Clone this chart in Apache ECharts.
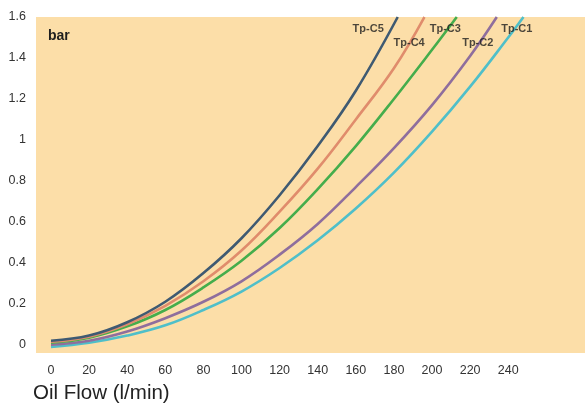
<!DOCTYPE html>
<html>
<head>
<meta charset="utf-8">
<script src="https://cdn.jsdelivr.net/npm/echarts@6/dist/echarts.min.js"></script>
<style>
html,body{margin:0;padding:0;background:#fff;}
#chart{width:585px;height:410px;}
</style>
</head>
<body>
<div id="chart"></div>
<script>
// Data (flow l/min, pressure bar)
var seriesNames = ['Tp-C5', 'Tp-C4', 'Tp-C3', 'Tp-C2', 'Tp-C1'];
var flowC5 = [0, 20, 40, 60, 80, 100, 120, 140, 160, 182];
var barC5  = [0.02, 0.045, 0.11, 0.21, 0.35, 0.52, 0.73, 0.97, 1.24, 1.6];
var flowC4 = [0, 20, 40, 60, 80, 100, 120, 140, 160, 180, 196];
var barC4  = [0.015, 0.04, 0.1, 0.19, 0.31, 0.46, 0.65, 0.86, 1.1, 1.35, 1.6];
var flowC3 = [0, 20, 40, 60, 80, 100, 120, 140, 160, 180, 200, 213];
var barC3  = [0.01, 0.035, 0.09, 0.17, 0.28, 0.41, 0.57, 0.76, 0.97, 1.2, 1.44, 1.6];
var flowC2 = [0, 20, 40, 60, 80, 100, 120, 140, 160, 180, 200, 220, 234];
var barC2  = [0.0, 0.02, 0.065, 0.13, 0.21, 0.31, 0.44, 0.59, 0.77, 0.96, 1.17, 1.41, 1.6];
var flowC1 = [0, 20, 40, 60, 80, 100, 120, 140, 160, 180, 200, 220, 240, 248];
var barC1  = [-0.01, 0.01, 0.045, 0.095, 0.17, 0.26, 0.375, 0.51, 0.665, 0.84, 1.04, 1.26, 1.5, 1.6];
var xTicks = [0, 20, 40, 60, 80, 100, 120, 140, 160, 180, 200, 220, 240];
var yTicks = [0, 0.2, 0.4, 0.6, 0.8, 1.0, 1.2, 1.4, 1.6];
// label anchor points in data space (flow, bar)
var labelFlow = [166.5, 188, 207, 224, 244.5];
var labelBar  = [1.54, 1.475, 1.54, 1.475, 1.54];

var colors = ['#3f5a72', '#e08c6c', '#45ad4c', '#8f6e9d', '#4fbfc9'];
var flows = [flowC5, flowC4, flowC3, flowC2, flowC1];
var bars = [barC5, barC4, barC3, barC2, barC1];

function zip(a, b) { return a.map(function (v, i) { return [v, b[i]]; }); }

var series = seriesNames.map(function (name, i) {
  return {
    name: name,
    type: 'line',
    data: zip(flows[i], bars[i]),
    smooth: 0.4,
    showSymbol: false,
    lineStyle: { color: colors[i], width: 2.6 },
    z: 10 - i
  };
});
series.push({
  type: 'scatter',
  data: seriesNames.map(function (n, i) { return [labelFlow[i], labelBar[i], n]; }),
  symbolSize: 0,
  label: {
    show: true,
    position: 'inside',
    formatter: function (p) { return p.data[2]; },
    fontFamily: 'Liberation Sans, Arial, sans-serif',
    fontWeight: 'bold',
    fontSize: 11,
    color: '#1e1e1e'
  },
  z: 20,
  silent: true
});

var chart = echarts.init(document.getElementById('chart'), null, { renderer: 'canvas' });
chart.setOption({
  animation: false,
  backgroundColor: '#ffffff',
  textStyle: { fontFamily: 'Liberation Sans, Arial, sans-serif' },
  grid: {
    left: 36, top: 17, right: 0, bottom: 57,
    show: true, backgroundColor: '#fcdea8', borderWidth: 0
  },
  xAxis: {
    type: 'value',
    min: -7.87, max: 280.3,
    axisLine: { show: false },
    axisTick: { show: false },
    splitLine: { show: false },
    axisLabel: {
      customValues: xTicks,
      color: '#333', fontSize: 12.5, margin: 11
    }
  },
  yAxis: {
    type: 'value',
    min: -0.04, max: 1.6,
    axisLine: { show: false },
    axisTick: { show: false },
    splitLine: { show: false },
    axisLabel: {
      customValues: yTicks,
      color: '#333', fontSize: 12.5, margin: 10,
      formatter: function (v) { return String(Math.round(v * 10) / 10); }
    }
  },
  graphic: [
    { type: 'text', left: 48, top: 29, style: { text: 'bar', fontSize: 14, fontWeight: 'bold', fill: '#1e1e1e', fontFamily: 'Liberation Sans, Arial, sans-serif' } },
    { type: 'text', left: 33, top: 383, style: { text: 'Oil Flow (l/min)', fontSize: 20.5, fill: '#222', fontFamily: 'Liberation Sans, Arial, sans-serif' } }
  ],
  series: series
});
</script>
</body>
</html>
